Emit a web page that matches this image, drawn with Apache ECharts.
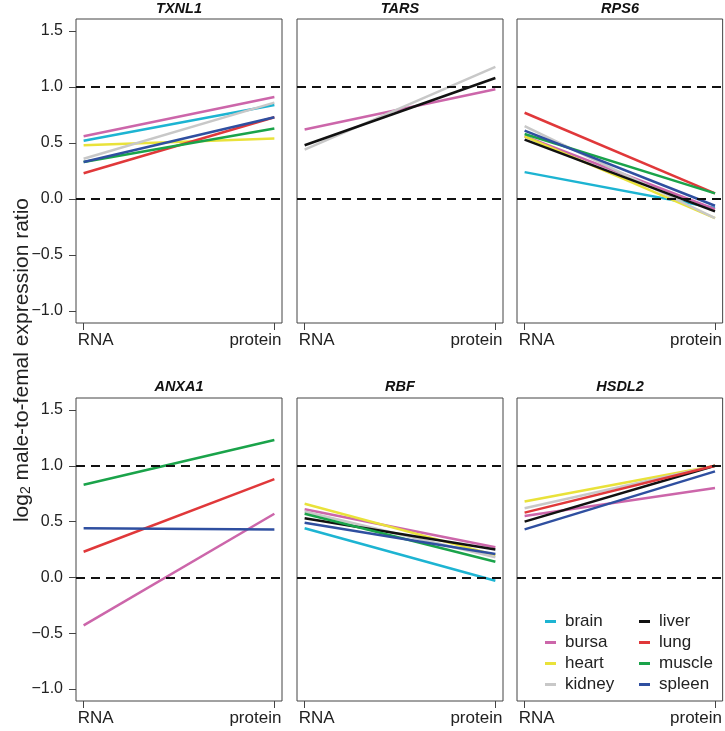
<!DOCTYPE html>
<html>
<head>
<meta charset="utf-8">
<script src="https://cdn.jsdelivr.net/npm/echarts@6/dist/echarts.min.js"></script>
<style>
html,body{margin:0;padding:0;background:#fff;}
#chart{width:725px;height:731px;}
</style>
</head>
<body>
<div id="chart"></div>
<script>
// ---- data ----
const genes = ['TXNL1', 'TARS', 'RPS6', 'ANXA1', 'RBF', 'HSDL2'];
const tissues = ['brain', 'bursa', 'heart', 'kidney', 'liver', 'lung', 'muscle', 'spleen'];
const tissueColors = ['#1db4d2', '#cc66aa', '#e9e23a', '#c8c8c8', '#111111', '#e0383a', '#1aa34a', '#2f4fa0'];
const stages = ['RNA', 'protein'];
// values per tissue (brain, bursa, heart, kidney, liver, lung, muscle, spleen); null = not measured
const rnaTXNL1     = [0.52, 0.56, 0.48, 0.36, null, 0.23, 0.33, 0.33];
const proteinTXNL1 = [0.84, 0.91, 0.54, 0.86, null, 0.73, 0.63, 0.73];
const rnaTARS      = [null, 0.62, null, 0.44, 0.48, null, null, null];
const proteinTARS  = [null, 0.98, null, 1.18, 1.08, null, null, null];
const rnaRPS6      = [0.24, 0.56, 0.56, 0.65, 0.53, 0.77, 0.58, 0.61];
const proteinRPS6  = [-0.08, -0.09, -0.17, -0.17, -0.11, 0.05, 0.05, -0.06];
const rnaANXA1     = [null, -0.43, null, null, null, 0.23, 0.83, 0.44];
const proteinANXA1 = [null, 0.57, null, null, null, 0.88, 1.23, 0.43];
const rnaRBF       = [0.44, 0.61, 0.66, 0.59, 0.53, null, 0.57, 0.49];
const proteinRBF   = [-0.03, 0.27, 0.20, 0.18, 0.25, null, 0.14, 0.21];
const rnaHSDL2     = [null, 0.55, 0.68, 0.62, 0.50, 0.58, null, 0.43];
const proteinHSDL2 = [null, 0.80, 1.00, 1.00, 1.00, 1.00, null, 0.95];
const rnaValues = [rnaTXNL1, rnaTARS, rnaRPS6, rnaANXA1, rnaRBF, rnaHSDL2];
const proteinValues = [proteinTXNL1, proteinTARS, proteinRPS6, proteinANXA1, proteinRBF, proteinHSDL2];
const yTicks = [-1.0, -0.5, 0.0, 0.5, 1.0, 1.5];
const refLines = [0, 1];
const legendCol1 = ['brain', 'bursa', 'heart', 'kidney'];
const legendCol2 = ['liver', 'lung', 'muscle', 'spleen'];

// ---- layout ----
const colLeft = [76, 297, 517];
const rowTop = [19, 398];
const rowH = [304, 303];
const panelW = 206;
const FONT = 'Liberation Sans, Arial, Helvetica, sans-serif';
const axisGray = '#444';

const grids = [], xAxes = [], yAxes = [], series = [], titles = [];
genes.forEach((g, i) => {
  const col = i % 3, row = Math.floor(i / 3);
  grids.push({left: colLeft[col], top: rowTop[row], width: panelW, height: rowH[row],
    show: true, borderColor: axisGray, borderWidth: 1, backgroundColor: 'transparent', containLabel: false});
  xAxes.push({type: 'value', gridIndex: i, min: -0.04, max: 1.04, position: 'bottom',
    axisLine: {show: false, onZero: false}, splitLine: {show: false},
    axisTick: {show: true, inside: false, length: 7, lineStyle: {color: axisGray}, customValues: [0, 1]},
    axisLabel: {show: true, margin: 9, customValues: [0, 1], color: '#222', fontFamily: FONT, fontSize: 17,
      formatter: v => v === 0 ? '{l|' + stages[0] + '}' : '{r|' + stages[1] + '}',
      rich: {l: {fontSize: 17, fontFamily: FONT, color: '#222', padding: [0, 0, 0, 24]},
             r: {fontSize: 17, fontFamily: FONT, color: '#222', padding: [0, 38, 0, 0]}}}
  });
  yAxes.push({type: 'value', gridIndex: i, min: -1.107, max: 1.607, position: 'left',
    axisLine: {show: false, onZero: false}, splitLine: {show: false},
    axisTick: {show: col === 0, length: 7, lineStyle: {color: axisGray}, customValues: yTicks},
    axisLabel: {show: col === 0, margin: 13, customValues: yTicks, color: '#222', fontFamily: FONT, fontSize: 16,
      formatter: v => (v < 0 ? '\u2212' : '') + Math.abs(v).toFixed(1)}
  });
  titles.push({text: g, left: colLeft[col] + panelW / 2, textAlign: 'center', top: row === 0 ? 1 : 379,
    padding: 0,
    textStyle: {fontSize: 14.5, fontWeight: 'bold', fontStyle: 'italic', fontFamily: FONT, color: '#111'}});
  // reference dashed lines
  series.push({type: 'line', xAxisIndex: i, yAxisIndex: i, data: [], silent: true, z: 1,
    markLine: {silent: true, symbol: 'none', animation: false, label: {show: false},
      lineStyle: {type: [9, 6], color: '#111', width: 2},
      data: refLines.map(v => ({yAxis: v}))}});
  tissues.forEach((t, k) => {
    const a = rnaValues[i][k], b = proteinValues[i][k];
    if (a === null || b === null) return;
    series.push({type: 'line', name: t, xAxisIndex: i, yAxisIndex: i, z: 2,
      data: [[0, a], [1, b]], symbol: 'none', showSymbol: false,
      lineStyle: {width: 2.5, color: tissueColors[k]}, itemStyle: {color: tissueColors[k]}});
  });
});

const legendCommon = {orient: 'vertical', top: 606, icon: 'rect', itemWidth: 11, itemHeight: 3, itemGap: 0,
  selectedMode: false,
  textStyle: {fontSize: 17, fontFamily: FONT, color: '#222', lineHeight: 21, padding: [0, 0, 0, 4]}};

const option = {
  animation: false,
  backgroundColor: '#fff',
  title: titles,
  grid: grids,
  xAxis: xAxes,
  yAxis: yAxes,
  legend: [
    Object.assign({}, legendCommon, {left: 540, data: legendCol1}),
    Object.assign({}, legendCommon, {left: 634, data: legendCol2})
  ],
  graphic: [{
    type: 'text', x: 22, y: 360, rotation: Math.PI / 2,
    style: {
      text: '{a|log}{s|2}{a| male-to-femal expression ratio}',
      align: 'center', verticalAlign: 'middle', fill: '#222',
      rich: {
        a: {fontSize: 21, fontFamily: FONT, fill: '#222', lineHeight: 22, verticalAlign: 'middle'},
        s: {fontSize: 14, fontFamily: FONT, fill: '#222', lineHeight: 22, verticalAlign: 'bottom'}
      }
    }
  }],
  series: series
};
const chart = echarts.init(document.getElementById('chart'), null, {renderer: 'canvas'});
chart.setOption(option);
</script>
</body>
</html>
